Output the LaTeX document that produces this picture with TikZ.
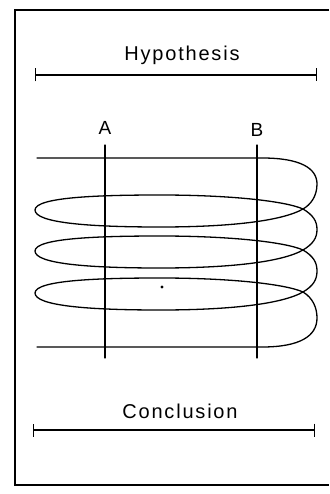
\documentclass[tikz,border=0pt]{standalone}
\usepackage{fontspec}
\newfontfamily\letterfont[LetterSpace=9]{Liberation Sans}
\newfontfamily\markfont{Liberation Sans}
\usetikzlibrary{arrows.meta}

\tikzset{
  curve/.style={line width=1.3pt,line cap=round,line join=round},
  rangebar/.style={line width=1.3pt,{Bar[width=13pt]}-{Bar[width=13pt]}},
  caption/.style={font=\letterfont\fontsize{20}{22}\selectfont,inner sep=0pt},
  pointlabel/.style={font=\markfont\fontsize{19}{21}\selectfont,inner sep=0pt}
}

\begin{document}
\begin{tikzpicture}[x=1pt,y=-1pt]
        \useasboundingbox (0,0) rectangle (329,494);
        % frame
        \draw[line width=1.8pt] (329,10) -- (15,10) -- (15,485) -- (329,485);

        % hypothesis and conclusion
        \node[caption,anchor=base] (hyp) at (182,61) {Hypothesis};
        \coordinate (hypL) at (35,75);
        \coordinate (hypR) at (317,75);
        \draw[rangebar] (hypL) -- (hypR);

        \node[caption,anchor=base] (con) at (180,418) {Conclusion};
        \coordinate (conL) at (33,430);
        \coordinate (conR) at (315,430);
        \draw[rangebar] (conL) -- (conR);

        % the two cuts
        \node[pointlabel,anchor=base] (A) at (105,135) {A};
        \node[pointlabel,anchor=base] (B) at (257,137) {B};
        \coordinate (Atop) at (105,145);
        \coordinate (Abot) at (105,358);
        \coordinate (Btop) at (257,145);
        \coordinate (Bbot) at (257,358);
        \draw[curve] (Atop) -- (Abot);
        \draw[curve] (Btop) -- (Bbot);

        % the coil
        \draw[curve] (37,158) -- (262,158)
          .. controls (300,158) and (317,168) .. (317,184)
          .. controls (317,197) and (310,205) .. (303,209);
        \foreach \c in {209,250,292} {
          \draw[curve] (303,\c) .. controls (282,\c+12) and (230,\c+18) .. (160,\c+18)
            .. controls (90,\c+18) and (35,\c+14) .. (35,\c+1)
            .. controls (35,\c-12) and (100,\c-14) .. (160,\c-14)
            .. controls (230,\c-14) and (285,\c-8) .. (303,\c);
        }
        \foreach \c/\d in {209/250,250/292} {
          \draw[curve] (303,\c) .. controls (313,\c+6) and (317,\c+12) .. (317,{(\c+\d)/2})
            .. controls (317,\d-12) and (313,\d-6) .. (303,\d);
        }
        \draw[curve] (303,292) .. controls (313,298) and (317,308) .. (317,318)
          .. controls (317,336) and (300,347) .. (262,347) -- (37,347);

        \fill (162,287) circle (1.6);
\end{tikzpicture}
\end{document}
